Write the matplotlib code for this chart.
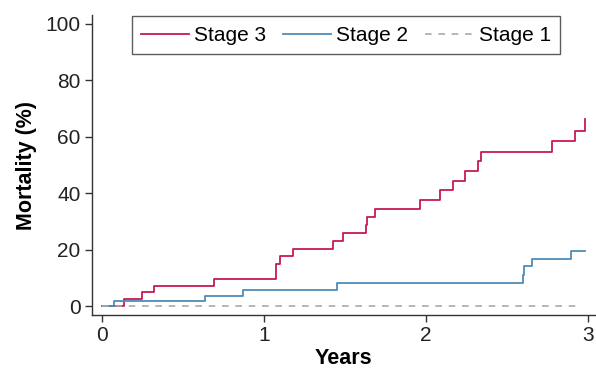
import matplotlib.pyplot as plt

plt.rcParams['font.family'] = ['Liberation Sans', 'DejaVu Sans']

# Kaplan-Meier style step data (years, mortality %)
stage3_t = [0, 0.136, 0.245, 0.323, 0.69, 1.074, 1.099, 1.177, 1.43, 1.49, 1.628, 1.634,
            1.685, 1.962, 2.086, 2.167, 2.243, 2.323, 2.34, 2.778, 2.918, 2.981]
stage3_y = [0, 2.5, 4.9, 7.2, 9.7, 15.1, 17.7, 20.3, 23.0, 25.8, 28.6, 31.7,
            34.6, 37.7, 41.2, 44.5, 47.9, 51.4, 54.7, 58.5, 62.2, 66.2]

stage2_t = [0, 0.074, 0.636, 0.874, 1.453, 2.597, 2.605, 2.654, 2.895, 2.98]
stage2_y = [0, 1.9, 3.7, 5.7, 8.3, 11.0, 14.1, 16.8, 19.6, 19.6]

stage1_t = [0, 2.93]
stage1_y = [0, 0]

fig = plt.figure(figsize=(5.96, 3.73), dpi=100)
ax = fig.add_axes([0.154, 0.155, 0.844, 0.805])

ax.step(stage3_t, stage3_y, where='post', color='#c8194f', lw=1.3, label='Stage 3')
ax.step(stage2_t, stage2_y, where='post', color='#4d8bb6', lw=1.3, label='Stage 2')
ax.plot(stage1_t, stage1_y, color='#aaaaaa', lw=1.2, ls=(0, (4, 4)), label='Stage 1')

ax.set_xlim(-0.062, 3.043)
ax.set_ylim(-3.2, 103.2)
ax.set_xticks([0, 1, 2, 3])
ax.set_yticks([0, 20, 40, 60, 80, 100])

for s in ['top', 'right']:
    ax.spines[s].set_visible(False)
for s in ['left', 'bottom']:
    ax.spines[s].set_color('#333333')
    ax.spines[s].set_linewidth(1.0)
ax.tick_params(colors='#333333', labelcolor='#222222', labelsize=15, length=5, width=1.0, pad=3)

ax.set_xlabel('Years', fontsize=15.5, fontweight='bold', labelpad=2)
ax.set_ylabel('Mortality (%)', fontsize=15.5, fontweight='bold', labelpad=6)

leg = ax.legend(loc='upper center', bbox_to_anchor=(0.505, 0.995), ncol=3, fontsize=15,
                frameon=True, fancybox=False, edgecolor='#333333', handlelength=2.3,
                handletextpad=0.25, columnspacing=0.82, borderpad=0.45, borderaxespad=0)
leg.get_frame().set_linewidth(1.0)

fig.savefig('out.png', dpi=100)
